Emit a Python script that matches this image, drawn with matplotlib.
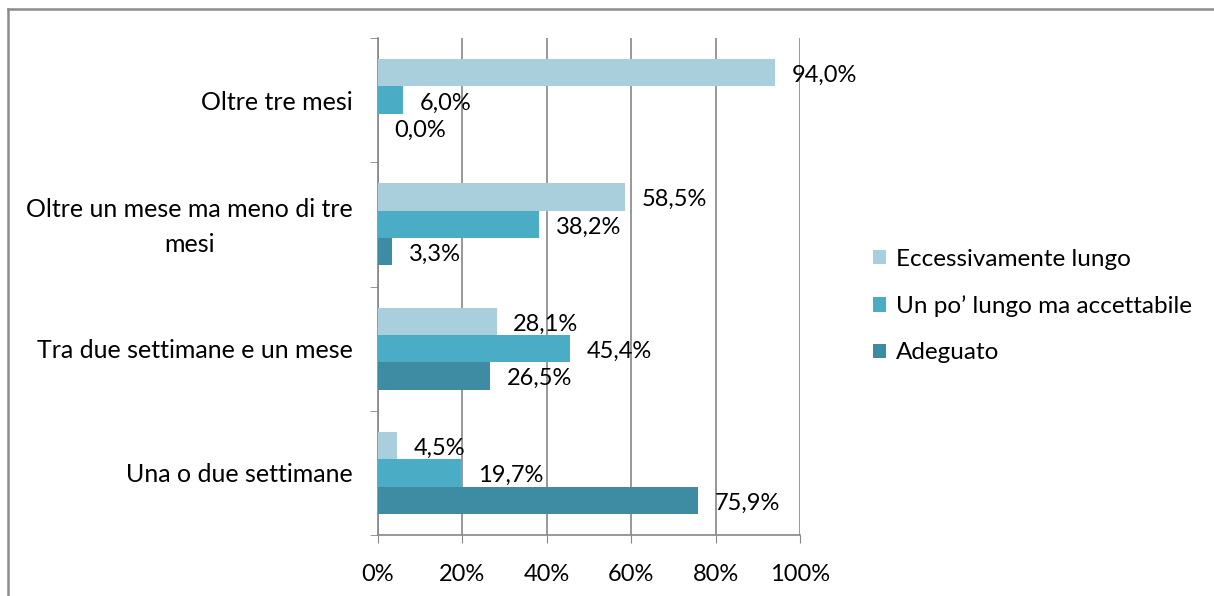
import numpy as np
import matplotlib.pyplot as plt
import matplotlib.transforms as mtransforms
from matplotlib.lines import Line2D

plt.rcParams['font.family'] = ['Lato', 'DejaVu Sans']

# dati (dall'alto verso il basso)
categorie = ['Oltre tre mesi', 'Oltre un mese ma meno di tre\nmesi',
             'Tra due settimane e un mese', 'Una o due settimane']
serie = ['Eccessivamente lungo', 'Un po\u2019 lungo ma accettabile', 'Adeguato']
eccessivo = [94.0, 58.5, 28.1, 4.5]
accettabile = [6.0, 38.2, 45.4, 19.7]
adeguato = [0.0, 3.3, 26.5, 75.9]
colori = ['#A9CFDD', '#4BACC6', '#3E8CA3']

fig = plt.figure(figsize=(12.14, 5.96), dpi=100)
ax = fig.add_axes([378/1214, 1-535/596, 422/1214, 497/596])

n = len(categorie)
centri = np.arange(n)[::-1]  # primo in alto
h = 0.22
valori = [eccessivo, accettabile, adeguato]
for k, (vals, col, nome) in enumerate(zip(valori, colori, serie)):
    y = centri + (1 - k) * h
    ax.barh(y, vals, height=h, color=col, label=nome, zorder=3)
    for yy, v in zip(y, vals):
        ax.annotate(f'{v:.1f}%'.replace('.', ','), (v, yy), xytext=(12, -2),
                    textcoords='offset points', ha='left', va='center',
                    fontsize=17, zorder=4)

ax.set_xlim(0, 100)
ax.set_ylim(-0.5, n - 0.5)
ax.set_xticks(np.arange(0, 101, 20))
ax.set_xticklabels([f'{t}%' for t in range(0, 101, 20)], fontsize=17)
ax.set_yticks(centri)
ax.set_yticklabels(categorie, fontsize=18, multialignment='center', linespacing=1.6)
ax.set_yticks(np.arange(n + 1) - 0.5, minor=True)
ax.tick_params(axis='y', which='major', length=0, pad=18)
ax.tick_params(axis='y', which='minor', length=6, color='#868686', direction='out')
ax.tick_params(axis='x', length=6, color='#868686', pad=15)
ax.grid(axis='x', color='#868686', linewidth=1.2, zorder=0)
for s in ['top', 'right']:
    ax.spines[s].set_visible(False)
for s in ['left', 'bottom']:
    ax.spines[s].set_color('#868686')
    ax.spines[s].set_linewidth(1.2)

# etichetta su due righe un po' più in alto
lbl = ax.get_yticklabels()[1]
lbl.set_transform(lbl.get_transform() + mtransforms.ScaledTranslation(0, 5/100, fig.dpi_scale_trans))

leg = fig.legend(loc='center left', bbox_to_anchor=(851/1214, 1-306/596), frameon=False,
                 fontsize=17.5, handlelength=0.55, handleheight=0.55, handletextpad=0.4,
                 labelspacing=1.05)

# cornice
fig.add_artist(Line2D([8/1214, 8/1214], [0, 1-9/596], color='#8c8c8c', linewidth=1.8))
fig.add_artist(Line2D([8/1214, 1], [1-9/596, 1-9/596], color='#8c8c8c', linewidth=1.8))

fig.savefig('out.png', dpi=100)
